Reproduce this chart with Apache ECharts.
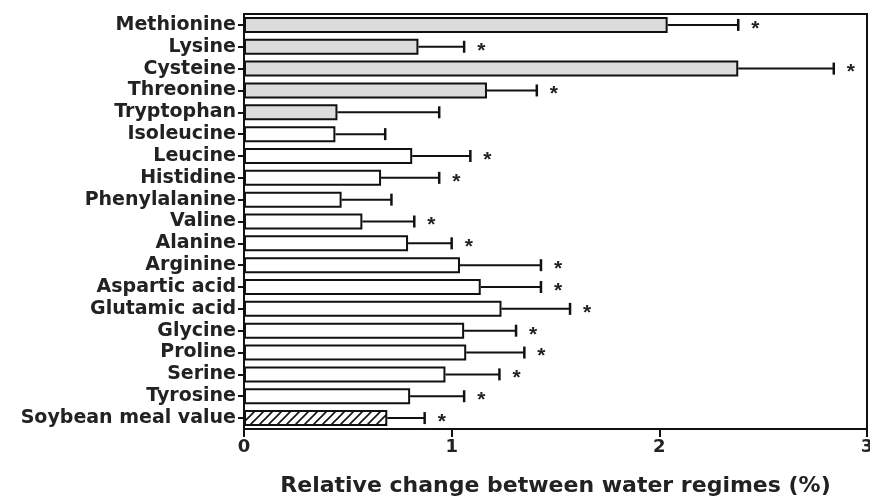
<!DOCTYPE html>
<html>
<head>
<meta charset="utf-8">
<script src="https://cdn.jsdelivr.net/npm/echarts@6/dist/echarts.min.js"></script>
<style>
  html, body { margin: 0; padding: 0; background: #fff; }
  #chart { width: 870px; height: 500px; }
</style>
</head>
<body>
<div id="chart"></div>
<script>
const categories = ['Methionine', 'Lysine', 'Cysteine', 'Threonine', 'Tryptophan', 'Isoleucine',
  'Leucine', 'Histidine', 'Phenylalanine', 'Valine', 'Alanine', 'Arginine', 'Aspartic acid',
  'Glutamic acid', 'Glycine', 'Proline', 'Serine', 'Tyrosine', 'Soybean meal value'];
const values = [2.04, 0.84, 2.38, 1.17, 0.45, 0.44, 0.81, 0.66, 0.47, 0.57, 0.79, 1.04, 1.14,
  1.24, 1.06, 1.07, 0.97, 0.80, 0.69];
const errors = [0.34, 0.22, 0.46, 0.24, 0.49, 0.24, 0.28, 0.28, 0.24, 0.25, 0.21, 0.39, 0.29,
  0.33, 0.25, 0.28, 0.26, 0.26, 0.18];
const significant = [1, 1, 1, 1, 0, 0, 1, 1, 0, 1, 1, 1, 1, 1, 1, 1, 1, 1, 1];
const limitingCount = 5;           // first bars drawn grey
const xTicks = [0, 1, 2, 3];

// hatch pattern for the soybean meal bar
const hatch = document.createElement('canvas');
hatch.width = 9; hatch.height = 9;
const hctx = hatch.getContext('2d');
hctx.fillStyle = '#fff';
hctx.fillRect(0, 0, 9, 9);
hctx.strokeStyle = '#111';
hctx.lineWidth = 1.6;
hctx.beginPath();
hctx.moveTo(-1, 10); hctx.lineTo(10, -1);
hctx.moveTo(-5, 5); hctx.lineTo(5, -5);
hctx.moveTo(4, 14); hctx.lineTo(14, 4);
hctx.stroke();

const barData = values.map((v, i) => {
  let fill = '#fff';
  if (i < limitingCount) fill = '#dcdcdc';
  if (i === values.length - 1) fill = { image: hatch, repeat: 'repeat' };
  return { value: v, itemStyle: { color: fill } };
});

const errData = values.map((v, i) => [v, errors[i], i, significant[i]]);

const font = '"DejaVu Sans", "Liberation Sans", Arial, sans-serif';
const chart = echarts.init(document.getElementById('chart'));

const option = {
  animation: false,
  grid: {
    left: 244, right: 3, top: 14, bottom: 71,
    outerBoundsMode: 'none',
    containLabel: false,
    show: true, borderColor: '#111', borderWidth: 2
  },
  xAxis: {
    type: 'value',
    min: xTicks[0], max: xTicks[xTicks.length - 1], interval: 1,
    splitLine: { show: false },
    axisLine: { show: true, lineStyle: { color: '#111', width: 2 } },
    axisTick: { show: true, length: 8, lineStyle: { color: '#111', width: 2 } },
    axisLabel: { color: '#222', fontFamily: font, fontWeight: 'bold', fontSize: 18, margin: 9 },
    name: 'Relative change between water regimes (%)',
    nameLocation: 'middle',
    nameGap: 46,
    nameTextStyle: { color: '#222', fontFamily: font, fontWeight: 'bold', fontSize: 22 }
  },
  yAxis: {
    type: 'category',
    data: categories,
    inverse: true,
    axisLine: { show: true, lineStyle: { color: '#111', width: 2 } },
    axisTick: { show: true, alignWithLabel: true, interval: 0, length: 6, lineStyle: { color: '#111', width: 2 } },
    axisLabel: { interval: 0, color: '#222', fontFamily: font, fontWeight: 'bold', fontSize: 19, margin: 8 }
  },
  series: [
    {
      type: 'bar',
      data: barData,
      barWidth: 16,
      itemStyle: { borderColor: '#111', borderWidth: 2 },
      z: 2
    },
    {
      type: 'custom',
      data: errData,
      encode: { x: 0, y: 2 },
      z: 3,
      renderItem: function (params, api) {
        const v = api.value(0), e = api.value(1), idx = api.value(2), sig = api.value(3);
        const p0 = api.coord([v, idx]);
        const p1 = api.coord([v + e, idx]);
        const h = 6;
        const children = [
          { type: 'line', shape: { x1: p0[0], y1: p0[1], x2: p1[0], y2: p1[1] },
            style: { stroke: '#111', lineWidth: 2 } },
          { type: 'line', shape: { x1: p1[0], y1: p1[1] - h, x2: p1[0], y2: p1[1] + h },
            style: { stroke: '#111', lineWidth: 2.5 } }
        ];
        if (sig) {
          children.push({
            type: 'text',
            style: {
              text: '*', x: p1[0] + 13, y: p1[1] + 4,
              fill: '#222', font: 'bold 21px "Liberation Sans", Arial, sans-serif',
              textAlign: 'left', textVerticalAlign: 'middle'
            }
          });
        }
        return { type: 'group', children: children };
      }
    }
  ]
};

chart.setOption(option);
</script>
</body>
</html>
